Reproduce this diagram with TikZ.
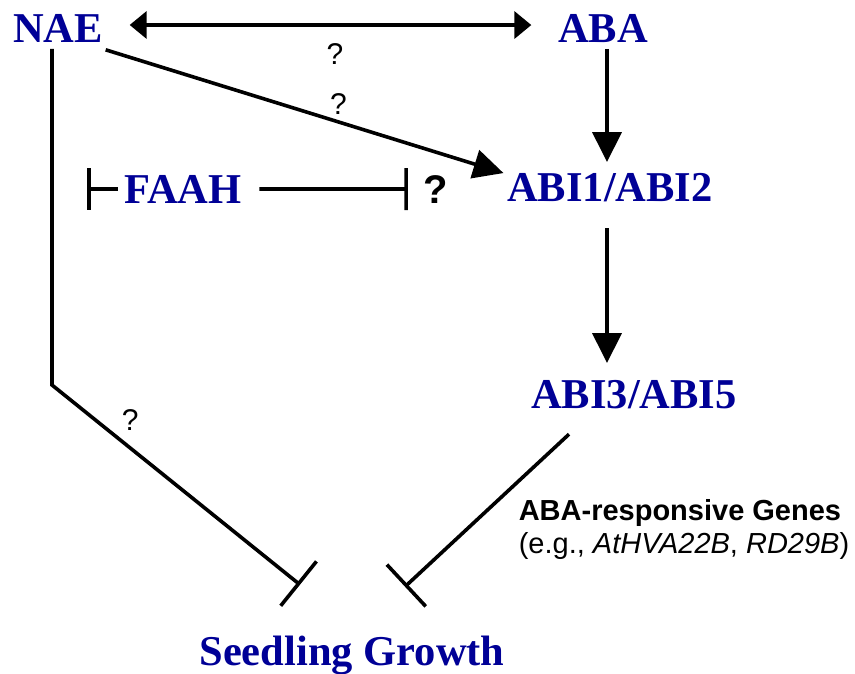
\documentclass[tikz,border=0pt]{standalone}
\usepackage{fontspec}
\setmainfont{Liberation Serif}
\newfontfamily\arial{Liberation Sans}
\usetikzlibrary{arrows.meta}
\definecolor{navy}{RGB}{0,0,150}

\begin{document}
\begin{tikzpicture}[x=1pt, y=-1pt, line width=3.6pt,
  every node/.style={inner sep=0pt},
  gene/.style={anchor=base, text=navy, font=\bfseries\fontsize{42.5}{48}\selectfont},
  qm/.style={font=\arial\fontsize{30}{34}\selectfont},
  note/.style={anchor=base west, font=\arial\fontsize{29}{33}\selectfont},
  act/.style={-{Triangle[length=30pt, width=29pt]}},
  inh/.style={-{Bar[width=57pt]}},
  inhs/.style={-{Bar[width=42pt]}}]
 \useasboundingbox (0,0) rectangle (855,673);
 \node[gene] (nae) at (58,42) {NAE};
 \node[gene] (aba) at (603,42) {ABA};
 \node[gene] (abi12) at (610,201) {ABI1/ABI2};
 \node[gene] (faah) at (183,203) {FAAH};
 \node[anchor=base, font=\arial\bfseries\fontsize{40}{44}\selectfont] (q) at (436,203) {?};
 \node[gene] (abi35) at (634,408) {ABI3/ABI5};
 \node[gene] (growth) at (352,665) {Seedling Growth};
 \node[note, font=\arial\bfseries\fontsize{29}{33}\selectfont] (genes) at (517,520) {ABA-responsive Genes};
 \node[note] (eg) at (517,553) {(e.g., \textit{AtHVA22B}, \textit{RD29B})};
 \coordinate (fbar) at (87,188);
 \coordinate (kink) at (52,385);
 \draw[{Triangle[length=17pt, width=27pt]}-{Triangle[length=17pt, width=27pt]}, shorten <=25pt, shorten >=25pt] ([yshift=3pt]nae.east) -- ([yshift=3pt]aba.west) node[qm, pos=0.51, below=17pt] {?};
 \draw[act, shorten <=5pt, shorten >=9pt] ([xshift=4pt]aba.south) -- ([xshift=4pt]aba.south |- abi12.north);
 \draw[act] ([xshift=1pt, yshift=-6pt]nae.south east) -- ([xshift=-2pt, yshift=-2pt]abi12.north west) node[qm, pos=0.585, above=6pt] {?};
 \draw[inhs, shorten <=5pt] (faah.west) -- (faah.west -| fbar);
 \draw[inhs, shorten <=16pt, shorten >=14pt] (faah.east) -- (q.west);
 \draw[act, shorten <=25pt, shorten >=15pt] ([xshift=-3pt]abi12.south) -- ([xshift=-3pt]abi12.south |- abi35.north);
 \draw[inh, shorten <=5pt] ([xshift=-6pt]nae.south) -- (kink) -- ([xshift=-52pt, yshift=49pt]growth.north) node[qm, pos=0.315, above=16pt] {?};
 \draw[inh] ([xshift=-65pt, yshift=-24pt]abi35.south) -- ([xshift=53pt, yshift=47pt]growth.north);
\end{tikzpicture}
\end{document}
